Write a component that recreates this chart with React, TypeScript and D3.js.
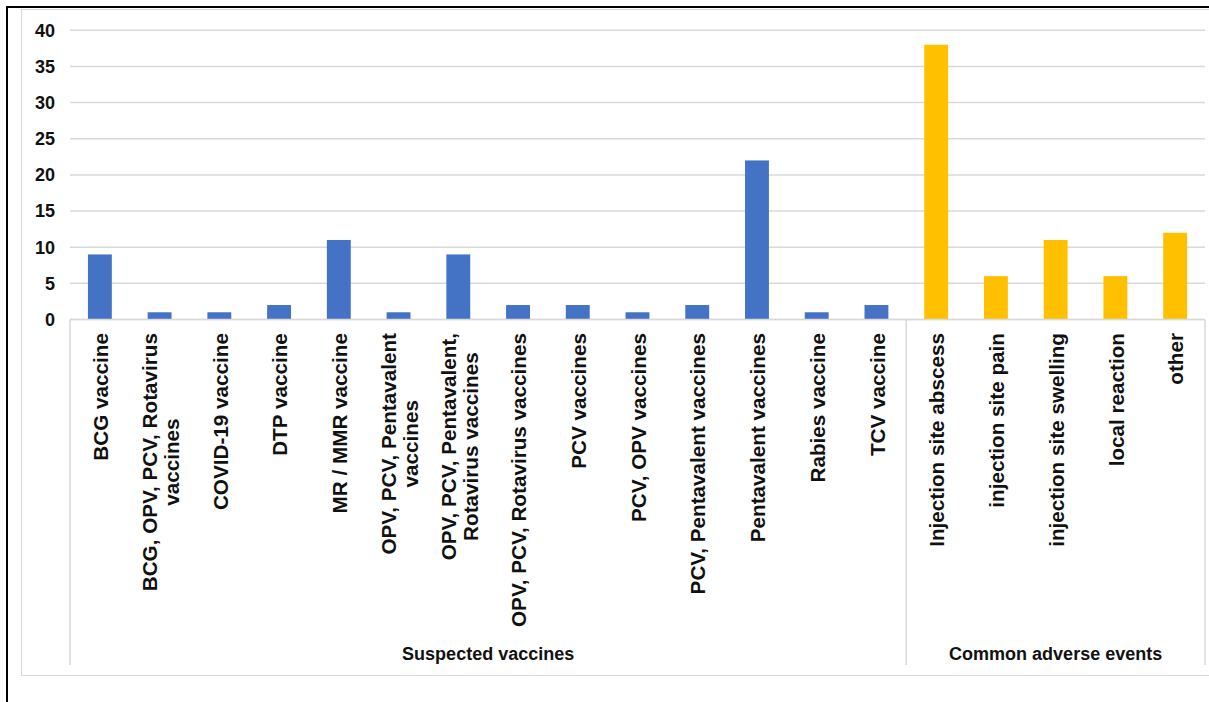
import React from "react";
import * as d3 from "d3";

// Reported counts by suspected vaccine
const vaccineCategories = [
  "BCG vaccine",
  "BCG, OPV, PCV, Rotavirus vaccines",
  "COVID-19 vaccine",
  "DTP vaccine",
  "MR / MMR vaccine",
  "OPV, PCV, Pentavalent vaccines",
  "OPV, PCV, Pentavalent, Rotavirus vaccines",
  "OPV, PCV, Rotavirus vaccines",
  "PCV vaccines",
  "PCV, OPV vaccines",
  "PCV, Pentavalent vaccines",
  "Pentavalent vaccines",
  "Rabies vaccine",
  "TCV vaccine",
];
const vaccineCounts = [9, 1, 1, 2, 11, 1, 9, 2, 2, 1, 2, 22, 1, 2];

// Reported counts by adverse event
const eventCategories = [
  "Injection site abscess",
  "injection site pain",
  "injection site swelling",
  "local reaction",
  "other",
];
const eventCounts = [38, 6, 11, 6, 12];

const groupNames = ["Suspected vaccines", "Common adverse events"];
const yTicks = [0, 5, 10, 15, 20, 25, 30, 35, 40];

const W = 1209;
const H = 702;
const FONT = "'Liberation Sans', Arial, Helvetica, sans-serif";
const TEXT = "#111";
const GRID = "#d9d9d9";
const BLUE = "#4472C4";
const GOLD = "#FFC000";

const LABEL_SIZE = 20.7;
const LABEL_WRAP = 302;
const LINE_STEP = 22;

let ctx: CanvasRenderingContext2D | null = null;
function measure(text: string): number {
  if (!ctx) ctx = document.createElement("canvas").getContext("2d");
  if (!ctx) return text.length * LABEL_SIZE * 0.55;
  ctx.font = `bold ${LABEL_SIZE}px ${FONT}`;
  return ctx.measureText(text).width;
}

function wrap(text: string): string[] {
  const words = text.split(" ");
  const lines: string[] = [];
  let cur = "";
  for (const w of words) {
    const next = cur ? cur + " " + w : w;
    if (cur && measure(next) > LABEL_WRAP) {
      lines.push(cur);
      cur = w;
    } else {
      cur = next;
    }
  }
  if (cur) lines.push(cur);
  return lines;
}

type Row = { name: string; value: number; group: number };

export default function App() {
  const rows: Row[] = [
    ...vaccineCategories.map((name, i) => ({ name, value: vaccineCounts[i], group: 0 })),
    ...eventCategories.map((name, i) => ({ name, value: eventCounts[i], group: 1 })),
  ];

  const plotLeft = 70;
  const plotRight = 1205;
  const plotTop = 30.3;
  const plotBottom = 319.5;

  const x = d3
    .scaleBand<string>()
    .domain(rows.map((r) => r.name))
    .range([plotLeft, plotRight])
    .paddingInner(0.6)
    .paddingOuter(0.3);
  const step = x.step();
  const y = d3.scaleLinear().domain([0, 40]).range([plotBottom, plotTop]);

  const labelTop = 333;
  const groupBottom = 665;

  // group boundaries along the category axis
  const bounds = [
    plotLeft,
    plotLeft + step * vaccineCategories.length,
    plotRight,
  ];

  return (
    <svg
      width={W}
      height={H}
      style={{ position: "absolute", left: 0, top: 0, background: "#fff" }}
      fontFamily={FONT}
    >
      <rect x={0} y={0} width={W} height={H} fill="#fff" />
      {/* outer frame */}
      <rect x={21.5} y={9.5} width={W} height={666} fill="none" stroke={GRID} strokeWidth={1} />
      <line x1={7} y1={7} x2={W} y2={7} stroke="#000" strokeWidth={2} />
      <line x1={7} y1={6} x2={7} y2={H} stroke="#000" strokeWidth={2} />

      {/* gridlines */}
      {yTicks.map((t) => (
        <line
          key={t}
          x1={plotLeft}
          x2={plotRight}
          y1={y(t)}
          y2={y(t)}
          stroke={GRID}
          strokeWidth={1.5}
        />
      ))}

      {/* y tick labels */}
      {yTicks.map((t) => (
        <text
          key={"l" + t}
          x={55}
          y={y(t)}
          dy="0.35em"
          textAnchor="end"
          fontSize={18}
          fontWeight="bold"
          fill={TEXT}
        >
          {t}
        </text>
      ))}

      {/* group separators */}
      {bounds.map((b, i) => (
        <line
          key={"b" + i}
          x1={b}
          x2={b}
          y1={plotBottom}
          y2={groupBottom}
          stroke={GRID}
          strokeWidth={1.5}
        />
      ))}

      {/* bars */}
      {rows.map((r) => (
        <rect
          key={r.name}
          x={x(r.name)}
          y={y(r.value)}
          width={x.bandwidth()}
          height={y(0) - y(r.value)}
          fill={r.group === 0 ? BLUE : GOLD}
        />
      ))}

      {/* category axis line */}
      <line
        x1={plotLeft}
        x2={plotRight}
        y1={plotBottom}
        y2={plotBottom}
        stroke={GRID}
        strokeWidth={1.5}
      />

      {/* category labels, rotated */}
      {rows.map((r) => {
        const lines = wrap(r.name);
        const block = Math.max(...lines.map(measure));
        const cx = (x(r.name) as number) + x.bandwidth() / 2 + 1;
        const cy = labelTop + block / 2;
        return (
          <g key={"t" + r.name} transform={`translate(${cx},${cy}) rotate(-90)`}>
            {lines.map((ln, i) => (
              <text
                key={i}
                x={0}
                y={(i - (lines.length - 1) / 2) * LINE_STEP}
                dy="0.35em"
                textAnchor="middle"
                fontSize={LABEL_SIZE}
                fontWeight="bold"
                fill={TEXT}
              >
                {ln}
              </text>
            ))}
          </g>
        );
      })}

      {/* group labels */}
      {groupNames.map((g, i) => (
        <text
          key={g}
          x={(bounds[i] + bounds[i + 1]) / 2}
          y={660}
          textAnchor="middle"
          fontSize={18}
          fontWeight="bold"
          fill={TEXT}
        >
          {g}
        </text>
      ))}
    </svg>
  );
}
